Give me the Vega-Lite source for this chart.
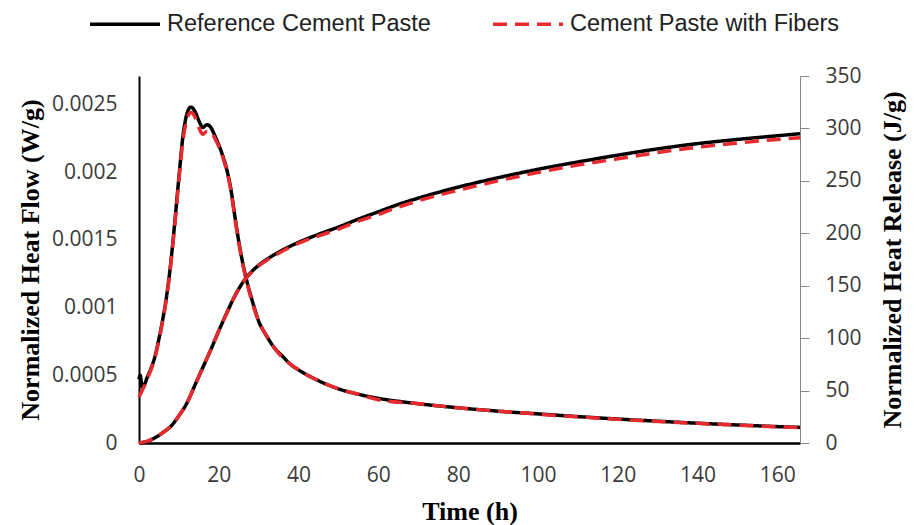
{
  "$schema": "https://vega.github.io/schema/vega-lite/v6.json",
  "width": 661,
  "height": 367,
  "autosize": "none",
  "padding": {"left": 139, "top": 76, "right": 116, "bottom": 82},
  "background": "white",
  "config": {
    "view": {"stroke": null},
    "axis": {
      "grid": false,
      "labelFont": "Open Sans",
      "labelFontSize": 21,
      "labelColor": "#3a3a3a",
      "titleFont": "Liberation Serif",
      "titleFontWeight": "bold",
      "titleFontSize": 26,
      "titleColor": "black"
    },
    "legend": {
      "orient": "none",
      "legendX": -51,
      "legendY": -89,
      "direction": "horizontal",
      "symbolType": "stroke",
      "symbolSize": 4900,
      "symbolStrokeWidth": 3.5,
      "labelFont": "Liberation Sans",
      "labelFontSize": 23.5,
      "labelColor": "#222222",
      "labelOffset": 5,
      "columnPadding": 55,
      "labelLimit": 400
    }
  },
  "datasets": {
    "flow": [
      {"series": "Reference Cement Paste", "t": 0, "v": 0.00047},
      {"series": "Reference Cement Paste", "t": 0.3, "v": 0.0005},
      {"series": "Reference Cement Paste", "t": 0.8, "v": 0.00041},
      {"series": "Reference Cement Paste", "t": 1.5, "v": 0.00044},
      {"series": "Reference Cement Paste", "t": 2, "v": 0.00048},
      {"series": "Reference Cement Paste", "t": 3, "v": 0.00055},
      {"series": "Reference Cement Paste", "t": 4, "v": 0.00064},
      {"series": "Reference Cement Paste", "t": 5, "v": 0.00077},
      {"series": "Reference Cement Paste", "t": 6, "v": 0.00092},
      {"series": "Reference Cement Paste", "t": 7, "v": 0.0011},
      {"series": "Reference Cement Paste", "t": 8, "v": 0.00134},
      {"series": "Reference Cement Paste", "t": 9, "v": 0.00164},
      {"series": "Reference Cement Paste", "t": 10, "v": 0.00196},
      {"series": "Reference Cement Paste", "t": 11, "v": 0.00226},
      {"series": "Reference Cement Paste", "t": 12, "v": 0.00243},
      {"series": "Reference Cement Paste", "t": 13, "v": 0.00248},
      {"series": "Reference Cement Paste", "t": 14, "v": 0.00245},
      {"series": "Reference Cement Paste", "t": 15, "v": 0.00238},
      {"series": "Reference Cement Paste", "t": 16, "v": 0.00233},
      {"series": "Reference Cement Paste", "t": 17, "v": 0.00235},
      {"series": "Reference Cement Paste", "t": 18, "v": 0.00233},
      {"series": "Reference Cement Paste", "t": 19, "v": 0.00227},
      {"series": "Reference Cement Paste", "t": 20, "v": 0.0022},
      {"series": "Reference Cement Paste", "t": 21, "v": 0.00212},
      {"series": "Reference Cement Paste", "t": 22, "v": 0.00202},
      {"series": "Reference Cement Paste", "t": 23, "v": 0.00188},
      {"series": "Reference Cement Paste", "t": 24, "v": 0.00168},
      {"series": "Reference Cement Paste", "t": 25, "v": 0.00149},
      {"series": "Reference Cement Paste", "t": 26, "v": 0.00133},
      {"series": "Reference Cement Paste", "t": 27, "v": 0.0012},
      {"series": "Reference Cement Paste", "t": 28, "v": 0.00109},
      {"series": "Reference Cement Paste", "t": 29, "v": 0.00099},
      {"series": "Reference Cement Paste", "t": 30, "v": 0.0009},
      {"series": "Reference Cement Paste", "t": 32, "v": 0.00079},
      {"series": "Reference Cement Paste", "t": 34, "v": 0.0007},
      {"series": "Reference Cement Paste", "t": 36, "v": 0.00064},
      {"series": "Reference Cement Paste", "t": 38, "v": 0.00058},
      {"series": "Reference Cement Paste", "t": 40, "v": 0.00054},
      {"series": "Reference Cement Paste", "t": 45, "v": 0.00046},
      {"series": "Reference Cement Paste", "t": 50, "v": 0.0004},
      {"series": "Reference Cement Paste", "t": 55, "v": 0.00036},
      {"series": "Reference Cement Paste", "t": 60, "v": 0.00033},
      {"series": "Reference Cement Paste", "t": 70, "v": 0.00029},
      {"series": "Reference Cement Paste", "t": 80, "v": 0.00026},
      {"series": "Reference Cement Paste", "t": 90, "v": 0.000235},
      {"series": "Reference Cement Paste", "t": 100, "v": 0.000215},
      {"series": "Reference Cement Paste", "t": 110, "v": 0.000195},
      {"series": "Reference Cement Paste", "t": 120, "v": 0.000177},
      {"series": "Reference Cement Paste", "t": 130, "v": 0.000161},
      {"series": "Reference Cement Paste", "t": 140, "v": 0.000146},
      {"series": "Reference Cement Paste", "t": 150, "v": 0.000133},
      {"series": "Reference Cement Paste", "t": 160, "v": 0.000121},
      {"series": "Reference Cement Paste", "t": 165.7, "v": 0.000115},
      {"series": "Cement Paste with Fibers", "t": 0, "v": 0.00034},
      {"series": "Cement Paste with Fibers", "t": 0.5, "v": 0.00037},
      {"series": "Cement Paste with Fibers", "t": 1, "v": 0.0004},
      {"series": "Cement Paste with Fibers", "t": 1.5, "v": 0.00043},
      {"series": "Cement Paste with Fibers", "t": 2, "v": 0.00047},
      {"series": "Cement Paste with Fibers", "t": 3, "v": 0.00054},
      {"series": "Cement Paste with Fibers", "t": 4, "v": 0.00063},
      {"series": "Cement Paste with Fibers", "t": 5, "v": 0.00076},
      {"series": "Cement Paste with Fibers", "t": 6, "v": 0.00091},
      {"series": "Cement Paste with Fibers", "t": 7, "v": 0.00109},
      {"series": "Cement Paste with Fibers", "t": 8, "v": 0.00133},
      {"series": "Cement Paste with Fibers", "t": 9, "v": 0.00162},
      {"series": "Cement Paste with Fibers", "t": 10, "v": 0.00194},
      {"series": "Cement Paste with Fibers", "t": 11, "v": 0.00223},
      {"series": "Cement Paste with Fibers", "t": 12, "v": 0.00239},
      {"series": "Cement Paste with Fibers", "t": 13, "v": 0.00244},
      {"series": "Cement Paste with Fibers", "t": 14, "v": 0.00241},
      {"series": "Cement Paste with Fibers", "t": 15, "v": 0.00233},
      {"series": "Cement Paste with Fibers", "t": 16, "v": 0.00228},
      {"series": "Cement Paste with Fibers", "t": 17, "v": 0.0023},
      {"series": "Cement Paste with Fibers", "t": 18, "v": 0.0023},
      {"series": "Cement Paste with Fibers", "t": 19, "v": 0.00225},
      {"series": "Cement Paste with Fibers", "t": 20, "v": 0.00219},
      {"series": "Cement Paste with Fibers", "t": 21, "v": 0.00211},
      {"series": "Cement Paste with Fibers", "t": 22, "v": 0.00201},
      {"series": "Cement Paste with Fibers", "t": 23, "v": 0.00187},
      {"series": "Cement Paste with Fibers", "t": 24, "v": 0.00167},
      {"series": "Cement Paste with Fibers", "t": 25, "v": 0.00148},
      {"series": "Cement Paste with Fibers", "t": 26, "v": 0.00132},
      {"series": "Cement Paste with Fibers", "t": 27, "v": 0.00119},
      {"series": "Cement Paste with Fibers", "t": 28, "v": 0.00108},
      {"series": "Cement Paste with Fibers", "t": 29, "v": 0.00098},
      {"series": "Cement Paste with Fibers", "t": 30, "v": 0.0009},
      {"series": "Cement Paste with Fibers", "t": 32, "v": 0.00079},
      {"series": "Cement Paste with Fibers", "t": 34, "v": 0.0007},
      {"series": "Cement Paste with Fibers", "t": 36, "v": 0.00063},
      {"series": "Cement Paste with Fibers", "t": 38, "v": 0.00058},
      {"series": "Cement Paste with Fibers", "t": 40, "v": 0.00054},
      {"series": "Cement Paste with Fibers", "t": 45, "v": 0.00046},
      {"series": "Cement Paste with Fibers", "t": 50, "v": 0.0004},
      {"series": "Cement Paste with Fibers", "t": 55, "v": 0.00036},
      {"series": "Cement Paste with Fibers", "t": 60, "v": 0.00032},
      {"series": "Cement Paste with Fibers", "t": 70, "v": 0.00029},
      {"series": "Cement Paste with Fibers", "t": 80, "v": 0.00026},
      {"series": "Cement Paste with Fibers", "t": 90, "v": 0.000235},
      {"series": "Cement Paste with Fibers", "t": 100, "v": 0.000213},
      {"series": "Cement Paste with Fibers", "t": 110, "v": 0.000193},
      {"series": "Cement Paste with Fibers", "t": 120, "v": 0.000175},
      {"series": "Cement Paste with Fibers", "t": 130, "v": 0.000159},
      {"series": "Cement Paste with Fibers", "t": 140, "v": 0.000145},
      {"series": "Cement Paste with Fibers", "t": 150, "v": 0.000132},
      {"series": "Cement Paste with Fibers", "t": 160, "v": 0.00012},
      {"series": "Cement Paste with Fibers", "t": 165.7, "v": 0.000114}
    ],
    "release": [
      {"series": "Reference Cement Paste", "t": 0, "v": 0},
      {"series": "Reference Cement Paste", "t": 2, "v": 1.5},
      {"series": "Reference Cement Paste", "t": 4, "v": 5},
      {"series": "Reference Cement Paste", "t": 6, "v": 10},
      {"series": "Reference Cement Paste", "t": 8, "v": 16},
      {"series": "Reference Cement Paste", "t": 10, "v": 26},
      {"series": "Reference Cement Paste", "t": 12, "v": 38},
      {"series": "Reference Cement Paste", "t": 14, "v": 55},
      {"series": "Reference Cement Paste", "t": 16, "v": 72},
      {"series": "Reference Cement Paste", "t": 18, "v": 89},
      {"series": "Reference Cement Paste", "t": 20, "v": 107},
      {"series": "Reference Cement Paste", "t": 22, "v": 124},
      {"series": "Reference Cement Paste", "t": 24, "v": 140},
      {"series": "Reference Cement Paste", "t": 26, "v": 153},
      {"series": "Reference Cement Paste", "t": 28, "v": 162.5},
      {"series": "Reference Cement Paste", "t": 30, "v": 169.5},
      {"series": "Reference Cement Paste", "t": 33, "v": 177.5},
      {"series": "Reference Cement Paste", "t": 37, "v": 186},
      {"series": "Reference Cement Paste", "t": 41, "v": 193},
      {"series": "Reference Cement Paste", "t": 45, "v": 199},
      {"series": "Reference Cement Paste", "t": 50, "v": 206},
      {"series": "Reference Cement Paste", "t": 55, "v": 213.5},
      {"series": "Reference Cement Paste", "t": 60, "v": 220.5},
      {"series": "Reference Cement Paste", "t": 65, "v": 227.5},
      {"series": "Reference Cement Paste", "t": 70, "v": 233.5},
      {"series": "Reference Cement Paste", "t": 80, "v": 244},
      {"series": "Reference Cement Paste", "t": 90, "v": 253},
      {"series": "Reference Cement Paste", "t": 100, "v": 261},
      {"series": "Reference Cement Paste", "t": 110, "v": 268},
      {"series": "Reference Cement Paste", "t": 120, "v": 274.5},
      {"series": "Reference Cement Paste", "t": 130, "v": 280.5},
      {"series": "Reference Cement Paste", "t": 140, "v": 285.5},
      {"series": "Reference Cement Paste", "t": 150, "v": 289.5},
      {"series": "Reference Cement Paste", "t": 160, "v": 293},
      {"series": "Reference Cement Paste", "t": 165.7, "v": 295},
      {"series": "Cement Paste with Fibers", "t": 0, "v": 0},
      {"series": "Cement Paste with Fibers", "t": 2, "v": 1.5},
      {"series": "Cement Paste with Fibers", "t": 4, "v": 5},
      {"series": "Cement Paste with Fibers", "t": 6, "v": 10},
      {"series": "Cement Paste with Fibers", "t": 8, "v": 16},
      {"series": "Cement Paste with Fibers", "t": 10, "v": 26},
      {"series": "Cement Paste with Fibers", "t": 12, "v": 38},
      {"series": "Cement Paste with Fibers", "t": 14, "v": 55},
      {"series": "Cement Paste with Fibers", "t": 16, "v": 72},
      {"series": "Cement Paste with Fibers", "t": 18, "v": 89},
      {"series": "Cement Paste with Fibers", "t": 20, "v": 107},
      {"series": "Cement Paste with Fibers", "t": 22, "v": 124},
      {"series": "Cement Paste with Fibers", "t": 24, "v": 140},
      {"series": "Cement Paste with Fibers", "t": 26, "v": 153},
      {"series": "Cement Paste with Fibers", "t": 28, "v": 162},
      {"series": "Cement Paste with Fibers", "t": 30, "v": 169},
      {"series": "Cement Paste with Fibers", "t": 33, "v": 176.5},
      {"series": "Cement Paste with Fibers", "t": 37, "v": 185},
      {"series": "Cement Paste with Fibers", "t": 41, "v": 192},
      {"series": "Cement Paste with Fibers", "t": 45, "v": 197.5},
      {"series": "Cement Paste with Fibers", "t": 50, "v": 204},
      {"series": "Cement Paste with Fibers", "t": 55, "v": 211.5},
      {"series": "Cement Paste with Fibers", "t": 60, "v": 218},
      {"series": "Cement Paste with Fibers", "t": 65, "v": 225},
      {"series": "Cement Paste with Fibers", "t": 70, "v": 231},
      {"series": "Cement Paste with Fibers", "t": 80, "v": 241},
      {"series": "Cement Paste with Fibers", "t": 90, "v": 250},
      {"series": "Cement Paste with Fibers", "t": 100, "v": 258},
      {"series": "Cement Paste with Fibers", "t": 110, "v": 265},
      {"series": "Cement Paste with Fibers", "t": 120, "v": 271},
      {"series": "Cement Paste with Fibers", "t": 130, "v": 277},
      {"series": "Cement Paste with Fibers", "t": 140, "v": 282},
      {"series": "Cement Paste with Fibers", "t": 150, "v": 286},
      {"series": "Cement Paste with Fibers", "t": 160, "v": 289.5},
      {"series": "Cement Paste with Fibers", "t": 165.7, "v": 291}
    ]
  },
  "encoding": {
    "x": {
      "field": "t",
      "type": "quantitative",
      "scale": {"domain": [0, 165.7], "nice": false, "zero": false},
      "axis": {
        "values": [0, 20, 40, 60, 80, 100, 120, 140, 160],
        "title": "Time (h)",
        "domainColor": "black",
        "domainWidth": 2.5,
        "ticks": false,
        "labelFlush": false,
        "labelPadding": 21,
        "titlePadding": 13
      }
    },
    "color": {
      "field": "series",
      "type": "nominal",
      "title": null,
      "scale": {"domain": ["Reference Cement Paste", "Cement Paste with Fibers"], "range": ["#000000", "#E8292E"]}
    },
    "strokeDash": {
      "field": "series",
      "type": "nominal",
      "title": null,
      "scale": {"domain": ["Reference Cement Paste", "Cement Paste with Fibers"], "range": [[1, 0], [14, 8]]}
    }
  },
  "layer": [
    {
      "data": {"name": "flow"},
      "encoding": {
        "y": {
          "field": "v",
          "type": "quantitative",
          "scale": {"domain": [0, 0.00271], "nice": false, "zero": true},
          "axis": {
            "orient": "left",
            "values": [0, 0.0005, 0.001, 0.0015, 0.002, 0.0025],
            "format": "~g",
            "title": "Normalized Heat Flow (W/g)",
            "domainColor": "black",
            "domainWidth": 2,
            "ticks": false,
            "labelPadding": 22,
            "titlePadding": 8
          }
        }
      },
      "layer": [
        {
          "transform": [{"filter": "datum.series === 'Reference Cement Paste'"}],
          "mark": {"type": "line", "strokeWidth": 3.5, "interpolate": "monotone"}
        },
        {
          "transform": [{"filter": "datum.series === 'Cement Paste with Fibers'"}],
          "mark": {"type": "line", "strokeWidth": 3.5, "interpolate": "monotone"}
        }
      ]
    },
    {
      "data": {"name": "release"},
      "encoding": {
        "y": {
          "field": "v",
          "type": "quantitative",
          "scale": {"domain": [0, 350], "nice": false},
          "axis": {
            "orient": "right",
            "values": [0, 50, 100, 150, 200, 250, 300, 350],
            "title": "Normalized Heat Release (J/g)",
            "titleAngle": 270,
            "titleX": 92,
            "titleY": 183.5,
            "titleAlign": "center",
            "titleBaseline": "middle",
            "domainColor": "#868686",
            "domainWidth": 1,
            "tickColor": "#868686",
            "tickSize": 9,
            "labelPadding": 16
          }
        }
      },
      "layer": [
        {
          "transform": [{"filter": "datum.series === 'Reference Cement Paste'"}],
          "mark": {"type": "line", "strokeWidth": 3.5, "interpolate": "monotone"}
        },
        {
          "transform": [{"filter": "datum.series === 'Cement Paste with Fibers'"}],
          "mark": {"type": "line", "strokeWidth": 3.5, "interpolate": "monotone"}
        }
      ]
    }
  ],
  "resolve": {"scale": {"y": "independent"}}
}
